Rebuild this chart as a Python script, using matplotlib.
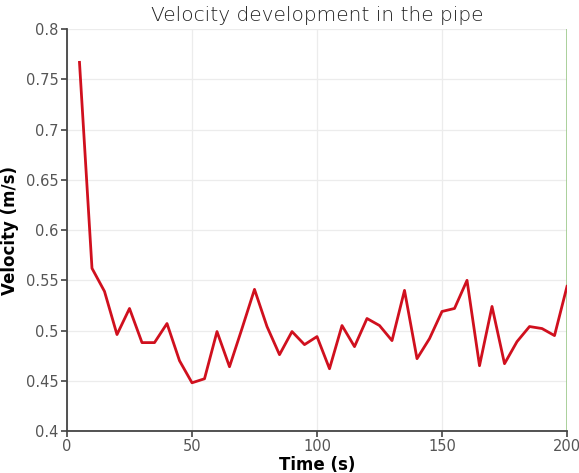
import matplotlib.pyplot as plt

# time (s) and velocity (m/s) samples
time = [5, 10, 15, 20, 25, 30, 35, 40, 45, 50, 55, 60, 65, 70, 75, 80, 85, 90, 95, 100,
        105, 110, 115, 120, 125, 130, 135, 140, 145, 150, 155, 160, 165, 170, 175, 180,
        185, 190, 195, 200]
velocity = [0.767, 0.562, 0.539, 0.496, 0.522, 0.488, 0.488, 0.507, 0.470, 0.448,
            0.452, 0.499, 0.464, 0.502, 0.541, 0.504, 0.476, 0.499, 0.486, 0.494,
            0.462, 0.505, 0.484, 0.512, 0.505, 0.490, 0.540, 0.472, 0.492, 0.519,
            0.522, 0.550, 0.465, 0.524, 0.467, 0.489, 0.504, 0.502, 0.495, 0.544]
current_time = 200

fig = plt.figure(figsize=(5.79, 4.73), dpi=100)
ax = fig.add_axes([0.1157, 0.0888, 0.8636, 0.8494])

ax.plot(time, velocity, color='#d0101e', lw=2.0, zorder=3)
ax.axvline(current_time, color='#9cc98a', lw=1.2, zorder=2)

ax.set_xlim(0, 200)
ax.set_ylim(0.4, 0.8)
ax.set_xticks([0, 50, 100, 150, 200])
ax.set_yticks([0.4, 0.45, 0.5, 0.55, 0.6, 0.65, 0.7, 0.75, 0.8])
ax.set_yticklabels(['0.4', '0.45', '0.5', '0.55', '0.6', '0.65', '0.7', '0.75', '0.8'])

ax.grid(True, color='#ececec', lw=0.9)
ax.set_axisbelow(True)
for s in ['top', 'right']:
    ax.spines[s].set_visible(False)
for s in ['left', 'bottom']:
    ax.spines[s].set_color('#444444')
    ax.spines[s].set_linewidth(1.3)
ax.tick_params(direction='out', length=4, width=1.2, color='#444444',
               labelcolor='#555555', labelsize=10.5, pad=2)

ax.set_title('Velocity development in the pipe', fontsize=14.5, color='#222222',
             fontweight='light', pad=6)
ax.set_xlabel('Time (s)', fontsize=12, fontweight='bold', labelpad=1)
ax.set_ylabel('Velocity (m/s)', fontsize=12, fontweight='bold', labelpad=5)

fig.savefig('out.png', dpi=100)
